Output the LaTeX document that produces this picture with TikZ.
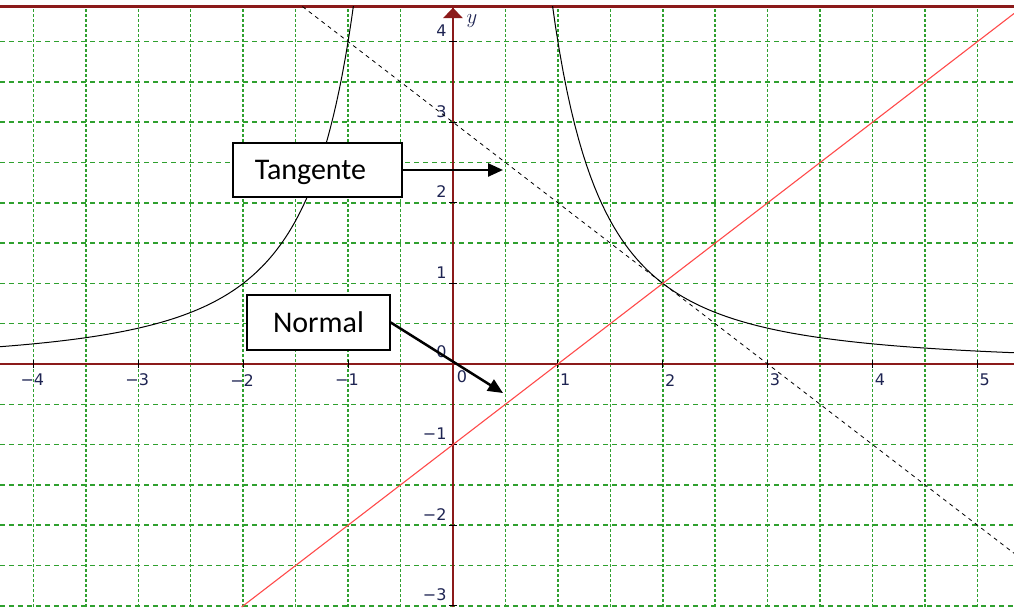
\documentclass[tikz,border=0pt]{standalone}
\usepackage{fontspec}
\newfontfamily\boxfont{Carlito}
\newfontfamily\tickfont{DejaVu Sans}
\usepackage{tikz}
\usetikzlibrary{arrows.meta, positioning}
\definecolor{axisred}{HTML}{8B1A1A}
\definecolor{gridgreen}{HTML}{2FA02F}
\definecolor{normalred}{HTML}{FF4A4A}
\definecolor{ticknavy}{HTML}{1E2452}

\begin{document}
\begin{tikzpicture}[
  x=104.9pt, y=80.6pt,
  gridv/.style={draw=gridgreen, line width=1.5pt, dash pattern=on 3pt off 2pt},
  gridh/.style={draw=gridgreen, line width=1.5pt, dash pattern=on 5pt off 4pt},
  axisline/.style={draw=axisred, line width=1.3pt},
  tickmark/.style={draw=black, line width=0.8pt},
  ticklabel/.style={text=ticknavy, inner sep=0pt, font=\tickfont\fontsize{16}{18}\selectfont},
  boxstyle/.style={draw=black, line width=1.5pt, fill=white, minimum height=54pt, inner sep=0pt, font=\boxfont\fontsize{30}{34}\selectfont},
  arrow/.style={-{Triangle[length=15pt,width=13pt]}, line width=2.5pt}
]
  \useasboundingbox (-4.318,-3.015) rectangle (5.348,4.516);

  % grid
  \foreach \x in {-4,-3.5,...,5} \draw[gridv] (\x,-3.015) -- (\x,4.43);
  \foreach \y in {-3,-2.5,...,4} \draw[gridh] (-4.318,\y) -- (5.348,\y);

  % axes
  \draw[axisline] (-4.318,0) -- (5.348,0);
  \draw[axisline] (0,-3.015) -- (0,4.43);
  \draw[axisred, line width=2.5pt] (-4.318,4.435) -- (5.348,4.435);
  \fill[axisred] (0,4.42) -- (-0.095,4.29) -- (0.095,4.29) -- cycle;
  \node[text=ticknavy, inner sep=0pt, font=\fontsize{20}{22}\selectfont] (ylab) at (0.181,4.256) {$y$};

  % ticks and labels
  \foreach \x in {-4,...,-1,1,2,...,5} \draw[tickmark] (\x,-0.05) -- (\x,0.05);
  \foreach \y in {-3,...,-1,1,2,...,4} \draw[tickmark] (-0.04,\y) -- (0.04,\y);
  \foreach \n in {1,...,4} \node[ticklabel] (xm\n) at (-\n-0.01,-0.2) {−\n};
  \foreach \n in {1,...,5} \node[ticklabel] (xp\n) at (\n+0.07,-0.2) {\n};
  \node[ticklabel] (x0) at (0.086,-0.16) {0};
  \foreach \n in {1,...,4} \node[ticklabel, anchor=east] (yp\n) at (-0.06,\n+0.136) {\n};
  \foreach \n in {1,...,3} \node[ticklabel, anchor=east] (ym\n) at (-0.06,-\n+0.136) {−\n};
  \node[ticklabel, anchor=east] (y0) at (-0.06,0.15) {0};

  % curve, tangent, normal
  \begin{scope}
    \clip (-4.318,-3.015) rectangle (5.348,4.43);
    \draw[black, line width=1pt] plot[domain=-4.318:-0.94, samples=120] (\x,{4/(\x*\x)});
    \draw[black, line width=1pt] plot[domain=0.94:5.348, samples=120] (\x,{4/(\x*\x)});
    \draw[black, line width=0.8pt, dash pattern=on 4pt off 4pt] (-1.435,4.435) -- (5.348,-2.348);
    \draw[normalred, line width=1.1pt] (-2.015,-3.015) -- (5.348,4.348);
  \end{scope}

  % labels
  \node[boxstyle, minimum width=169pt, text depth=0pt] (tan) at (-1.292,2.407) {\hspace{-14pt}Tangente};
  \node[boxstyle, minimum width=143pt, minimum height=55pt] (nor) at (-1.282,0.515) {Normal};
  \coordinate (tantip) at (0.477,2.43);
  \coordinate (nortip) at (0.477,-0.36);
  \draw[arrow] (tan.east) -- (tan.east -| tantip);
  \draw[arrow] (nor.east) -- (nortip);
\end{tikzpicture}
\end{document}
